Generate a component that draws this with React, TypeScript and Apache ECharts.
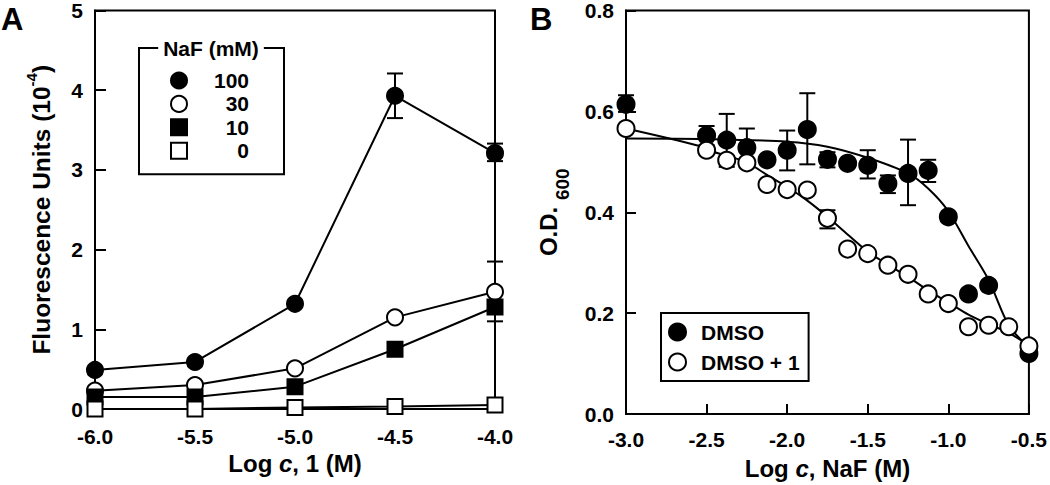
import React, { useEffect, useRef } from "react";
import * as echarts from "echarts";

const FONT = "'Liberation Sans', Arial, Helvetica, sans-serif";

// ---------- Panel A data ----------
const xA = [-6.0, -5.5, -5.0, -4.5, -4.0];
const naf100 = [0.49, 0.59, 1.32, 3.93, 3.21];
const naf30 = [0.23, 0.3, 0.51, 1.15, 1.47];
const naf10 = [0.15, 0.15, 0.28, 0.75, 1.28];
const naf0 = [0.0, 0.0, 0.02, 0.03, 0.05];
// [x, low, high]
const errA = [
  [-4.5, 3.65, 4.21],
  [-4.0, 3.11, 3.33],
  [-4.0, 1.1, 1.85],
];
const legendA = ["100", "30", "10", "0"];

// ---------- Panel B data ----------
const xDmso = [-3.0, -2.5, -2.375, -2.25, -2.125, -2.0, -1.875, -1.75, -1.625, -1.5, -1.375, -1.25, -1.125, -1.0, -0.875, -0.75, -0.5];
const yDmso = [0.614, 0.552, 0.543, 0.528, 0.504, 0.523, 0.564, 0.505, 0.497, 0.493, 0.457, 0.477, 0.483, 0.391, 0.238, 0.255, 0.12];
const xDmso1 = [-3.0, -2.5, -2.375, -2.25, -2.125, -2.0, -1.875, -1.75, -1.625, -1.5, -1.375, -1.25, -1.125, -1.0, -0.875, -0.75, -0.625, -0.5];
const yDmso1 = [0.566, 0.523, 0.503, 0.498, 0.455, 0.445, 0.444, 0.388, 0.327, 0.318, 0.295, 0.277, 0.238, 0.219, 0.173, 0.176, 0.173, 0.135];
const errB = [
  [-3.0, 0.599, 0.632],
  [-2.5, 0.533, 0.571],
  [-2.375, 0.49, 0.595],
  [-2.25, 0.49, 0.566],
  [-2.0, 0.483, 0.562],
  [-1.875, 0.495, 0.636],
  [-1.75, 0.489, 0.519],
  [-1.5, 0.467, 0.523],
  [-1.375, 0.438, 0.473],
  [-1.25, 0.414, 0.544],
  [-1.125, 0.46, 0.504],
  [-1.75, 0.368, 0.404],
];
const fitDmsoX = [-3.0, -2.5, -2.0, -1.75, -1.5, -1.25, -1.125, -1.0, -0.875, -0.75, -0.625, -0.5];
const fitDmsoY = [0.546, 0.545, 0.54, 0.53, 0.508, 0.477, 0.447, 0.402, 0.333, 0.266, 0.176, 0.132];
const fitDmso1X = [-3.0, -2.55, -2.5, -2.375, -2.25, -2.125, -2.0, -1.875, -1.75, -1.625, -1.5, -1.375, -1.25, -1.125, -1.0, -0.875, -0.75, -0.625, -0.5];
const fitDmso1Y = [0.566, 0.532, 0.524, 0.512, 0.499, 0.474, 0.45, 0.423, 0.391, 0.356, 0.322, 0.296, 0.272, 0.245, 0.221, 0.197, 0.178, 0.161, 0.136];
const legendB = ["DMSO", "DMSO + 1"];

const zip = (xs: number[], ys: number[]) => xs.map((x, i) => [x, ys[i]]);

const errRender = (cap: number) => (params: any, api: any) => {
  const x = api.value(0);
  const lo = api.coord([x, api.value(1)]);
  const hi = api.coord([x, api.value(2)]);
  const st = { stroke: "#000", lineWidth: 2 };
  return {
    type: "group",
    children: [
      { type: "line", shape: { x1: lo[0], y1: lo[1], x2: hi[0], y2: hi[1] }, style: st },
      { type: "line", shape: { x1: lo[0] - cap, y1: lo[1], x2: lo[0] + cap, y2: lo[1] }, style: st },
      { type: "line", shape: { x1: hi[0] - cap, y1: hi[1], x2: hi[0] + cap, y2: hi[1] }, style: st },
    ],
  };
};

const tick = (len: number) => ({ inside: true, length: len, lineStyle: { color: "#000", width: 2 } });
const axLine = { lineStyle: { color: "#000", width: 2 } };
const lbl = (margin: number, fmt: (v: number) => string) => ({
  margin,
  color: "#000",
  fontSize: 21,
  fontWeight: "bold",
  fontFamily: FONT,
  formatter: fmt,
  showMinLabel: true,
  showMaxLabel: true,
});
const mStyle = { fontSize: 24, fontWeight: "bold", fontFamily: FONT, color: "#000" };

export default function App() {
  const ref = useRef<HTMLDivElement>(null);
  useEffect(() => {
    if (!ref.current) return;
    const chart = echarts.init(ref.current, null, { renderer: "svg" });
    const blackFill = { color: "#000", borderColor: "#000", borderWidth: 2, opacity: 1 };
    const whiteFill = { color: "#fff", borderColor: "#000", borderWidth: 2, opacity: 1 };
    const lineA = (name: string, ys: number[], symbol: string, size: number, style: any) => ({
      type: "line",
      name,
      xAxisIndex: 0,
      yAxisIndex: 0,
      data: zip(xA, ys),
      symbol,
      symbolSize: size,
      showSymbol: true,
      itemStyle: style,
      lineStyle: { color: "#000", width: 2 },
      clip: false,
      z: 3,
    });
    const option: any = {
      animation: false,
      backgroundColor: "#fff",
      textStyle: { fontFamily: FONT, fontWeight: "bold", color: "#000" },
      grid: [
        { left: 95, top: 9, width: 400, height: 400, show: true, borderColor: "#000", borderWidth: 2, backgroundColor: "transparent" },
        { left: 626, top: 10, width: 405, height: 404, show: true, borderColor: "#000", borderWidth: 2, backgroundColor: "transparent" },
      ],
      xAxis: [
        {
          type: "value",
          gridIndex: 0,
          min: -6,
          max: -4,
          interval: 0.5,
          axisLine: axLine,
          axisTick: tick(10),
          splitLine: { show: false },
          axisLabel: lbl(17, (v: number) => v.toFixed(1)),
          name: "{m|Log }{i|c}{m|, 1 (M)}",
          nameLocation: "middle",
          nameGap: 39,
          nameTextStyle: { rich: { m: mStyle, i: { ...mStyle, fontStyle: "italic" } } },
        },
        {
          type: "value",
          gridIndex: 1,
          min: -3,
          max: -0.5,
          interval: 0.5,
          axisLine: axLine,
          axisTick: tick(10),
          splitLine: { show: false },
          axisLabel: lbl(15, (v: number) => v.toFixed(1)),
          name: "{m|Log }{i|c}{m|, NaF (M)}",
          nameLocation: "middle",
          nameGap: 42,
          nameTextStyle: { rich: { m: mStyle, i: { ...mStyle, fontStyle: "italic" } } },
        },
      ],
      yAxis: [
        {
          type: "value",
          gridIndex: 0,
          min: 0,
          max: 5,
          interval: 1,
          axisLine: axLine,
          axisTick: tick(11),
          splitLine: { show: false },
          axisLabel: lbl(12, (v: number) => String(Math.round(v))),
          name: "{m|Fluorescence Units (10}{s|-4}{m|)}",
          nameLocation: "middle",
          nameGap: 36,
          nameTextStyle: {
            rich: {
              m: { ...mStyle, fontSize: 24.5 },
              s: { fontSize: 15, fontWeight: "bold", fontFamily: FONT, color: "#000", padding: [0, 0, 20, 0] },
            },
          },
        },
        {
          type: "value",
          gridIndex: 1,
          min: 0,
          max: 0.8,
          interval: 0.2,
          axisLine: axLine,
          axisTick: tick(10),
          splitLine: { show: false },
          axisLabel: lbl(12, (v: number) => v.toFixed(1)),
          name: "{m|O.D. }{s|600}",
          nameLocation: "middle",
          nameGap: 54,
          nameTextStyle: {
            rich: {
              m: mStyle,
              s: { fontSize: 19, fontWeight: "bold", fontFamily: FONT, color: "#000", padding: [28, 0, 0, 0] },
            },
          },
        },
      ],
      legend: [
        {
          data: legendA.map((n, i) => ({ name: n, icon: i < 2 ? "circle" : "rect" })),
          orient: "vertical",
          left: 139,
          top: 48,
          padding: [22, 35, 13, 31],
          itemWidth: 16,
          itemHeight: 16,
          itemGap: 2.4,
          borderColor: "#000",
          borderWidth: 2,
          backgroundColor: "#fff",
          selectedMode: false,
          itemStyle: { borderWidth: 2, borderColor: "#000" },
          formatter: (name: string) => `{n|${name}}`,
          textStyle: {
            rich: {
              n: { width: 57, align: "right", fontSize: 21, fontWeight: "bold", fontFamily: FONT, color: "#000" },
            },
          },
        },
        {
          data: legendB.map((n) => ({ name: n, icon: "circle" })),
          orient: "vertical",
          left: 661,
          top: 313,
          padding: [8.5, 9, 8.5, 7],
          itemWidth: 17,
          itemHeight: 17,
          itemGap: 9,
          borderColor: "#000",
          borderWidth: 2,
          backgroundColor: "#fff",
          selectedMode: false,
          itemStyle: { borderWidth: 2, borderColor: "#000" },
          formatter: (name: string) => `{n|${name}}`,
          textStyle: {
            rich: {
              n: { fontSize: 21, fontWeight: "bold", fontFamily: FONT, color: "#000", padding: [0, 0, 0, 10] },
            },
          },
        },
      ],
      graphic: [
        { type: "text", left: 1, top: 4, z: 100, style: { text: "A", font: `bold 31px ${FONT}`, fill: "#000" } },
        { type: "text", left: 530, top: 4, z: 100, style: { text: "B", font: `bold 31px ${FONT}`, fill: "#000" } },
        {
          type: "text",
          x: 211,
          y: 48,
          z: 100,
          style: {
            text: "NaF (mM)",
            font: `bold 21px ${FONT}`,
            fill: "#000",
            align: "center",
            verticalAlign: "middle",
            backgroundColor: "#fff",
            padding: [2, 5, 2, 5],
          },
        },
      ],
      series: [
        {
          type: "custom",
          name: "errA",
          xAxisIndex: 0,
          yAxisIndex: 0,
          data: errA,
          encode: { x: 0, y: [1, 2] },
          renderItem: errRender(8),
          z: 2,
          silent: true,
        },
        lineA("100", naf100, "circle", 16, blackFill),
        lineA("30", naf30, "circle", 16, whiteFill),
        lineA("10", naf10, "rect", 15, blackFill),
        lineA("0", naf0, "rect", 15, whiteFill),
        {
          type: "line",
          name: "DMSO fit",
          xAxisIndex: 1,
          yAxisIndex: 1,
          data: zip(fitDmsoX, fitDmsoY),
          symbol: "none",
          showSymbol: false,
          smooth: 0.3,
          lineStyle: { color: "#000", width: 2 },
          z: 1,
        },
        {
          type: "line",
          name: "DMSO + 1 fit",
          xAxisIndex: 1,
          yAxisIndex: 1,
          data: zip(fitDmso1X, fitDmso1Y),
          symbol: "none",
          showSymbol: false,
          smooth: 0.3,
          lineStyle: { color: "#000", width: 2 },
          z: 1,
        },
        {
          type: "custom",
          name: "errB",
          xAxisIndex: 1,
          yAxisIndex: 1,
          data: errB,
          encode: { x: 0, y: [1, 2] },
          renderItem: errRender(8),
          z: 2,
          silent: true,
        },
        {
          type: "scatter",
          name: "DMSO",
          xAxisIndex: 1,
          yAxisIndex: 1,
          data: zip(xDmso, yDmso),
          symbol: "circle",
          symbolSize: 17,
          itemStyle: blackFill,
          clip: false,
          z: 3,
        },
        {
          type: "scatter",
          name: "DMSO + 1",
          xAxisIndex: 1,
          yAxisIndex: 1,
          data: zip(xDmso1, yDmso1),
          symbol: "circle",
          symbolSize: 17,
          itemStyle: whiteFill,
          clip: false,
          z: 4,
        },
      ],
    };
    chart.setOption(option);
    return () => chart.dispose();
  }, []);
  return (
    <div
      ref={ref}
      style={{ position: "absolute", left: 0, top: 0, width: 1050, height: 485, background: "#fff" }}
    />
  );
}
